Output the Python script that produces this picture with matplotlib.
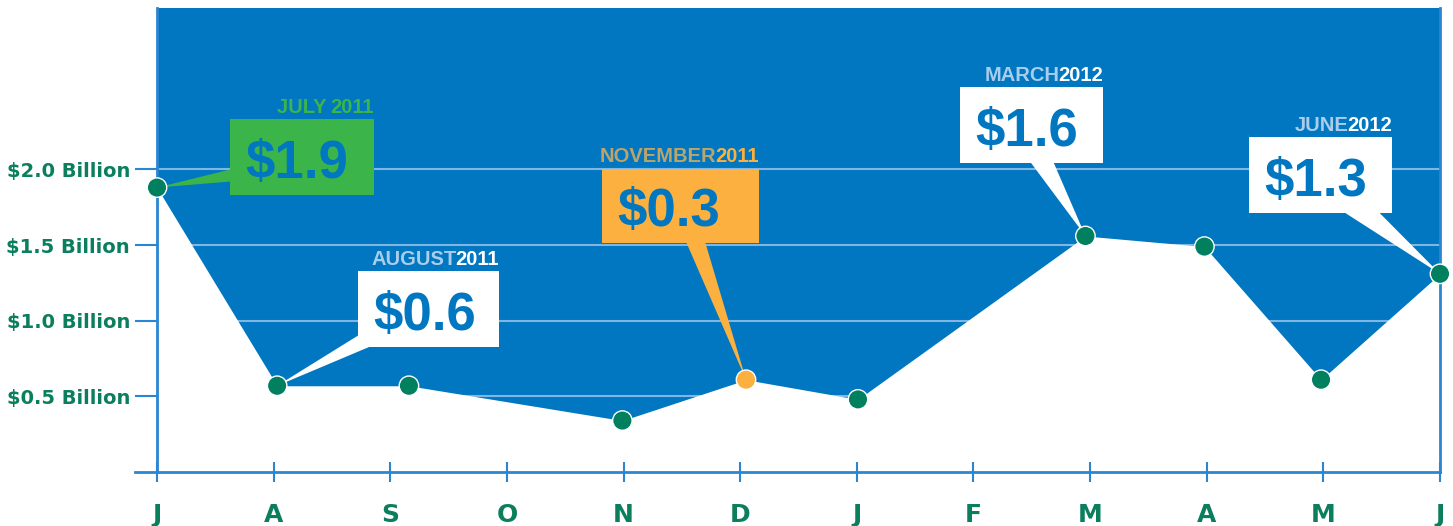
import matplotlib.pyplot as plt
from matplotlib.patches import Rectangle, Polygon

# month axis, July 2011 .. June 2012
months = ['J', 'A', 'S', 'O', 'N', 'D', 'J', 'F', 'M', 'A', 'M', 'J']

# readings: position in months after July 2011, value in $ billion
pos = [0, 1.03, 2.16, 3.99, 5.05, 6.01, 7.96, 8.98, 9.98, 11]
vals = [1.88, 0.57, 0.57, 0.34, 0.61, 0.48, 1.56, 1.49, 0.61, 1.31]
highlight = 4  # the orange one

yticks = [0.5, 1.0, 1.5, 2.0]
ylabels = ['$0.5 Billion', '$1.0 Billion', '$1.5 Billion', '$2.0 Billion']

# callouts
call_idx = [0, 1, 4, 6, 9]
call_month = ['JULY ', 'AUGUST', 'NOVEMBER', 'MARCH', 'JUNE']
call_year = ['2011', '2011', '2011', '2012', '2012']
call_value = ['$1.9', '$0.6', '$0.3', '$1.6', '$1.3']

BLUE = '#0077c0'
GRID = '#7fb6e4'
AXIS = '#2a86d2'
GREEN_TXT = '#0b7f5d'
DOT = '#00805e'
GREEN = '#3bb54a'
ORANGE = '#fbb040'
TAN = '#bca46b'
LIGHT = '#a9cdeb'

# box (x0, y0, w, h) and tail base points, data units
boxes = [(0.626, 1.831, 1.235, 0.50), (1.724, 0.826, 1.21, 0.50),
         (3.816, 1.514, 1.347, 0.49), (6.887, 2.042, 1.226, 0.50),
         (9.365, 1.712, 1.227, 0.50)]
tails = [[(0.63, 2.0), (0.63, 1.92)], [(1.73, 0.905), (1.83, 0.83)],
         [(4.537, 1.52), (4.70, 1.52)], [(7.487, 2.05), (7.685, 2.05)],
         [(10.172, 1.72), (10.472, 1.72)]]
box_col = [GREEN, 'white', ORANGE, 'white', 'white']
month_col = [GREEN, LIGHT, TAN, LIGHT, LIGHT]
year_col = [GREEN, 'white', ORANGE, 'white', 'white']

CALL_FONT = ['Liberation Sans', 'DejaVu Sans']

fig = plt.figure(figsize=(14.53, 5.26), dpi=100)
ax = fig.add_axes([157 / 1453, 54 / 526, 1283 / 1453, 464 / 526])
ax.set_facecolor(BLUE)
ax.set_xlim(0, 11)
ax.set_ylim(0, 3.067)

for v in yticks:
    ax.axhline(v, color=GRID, lw=1.5, zorder=0.8)
ax.fill_between(pos, 0, vals, color='white', lw=0, zorder=1)

# callouts
for k, i in enumerate(call_idx):
    x0, y0, w, h = boxes[k]
    ax.add_patch(Polygon(tails[k] + [(pos[i], vals[i])], closed=True,
                         color=box_col[k], lw=0, zorder=3))
    ax.add_patch(Rectangle((x0, y0), w, h, color=box_col[k], lw=0, zorder=3))
    ax.text(x0 + 0.13, y0 + 0.112, call_value[k], color=BLUE, fontsize=38,
            fontweight='bold', family=CALL_FONT, ha='left', va='baseline',
            zorder=4)

colors = [ORANGE if j == highlight else DOT for j in range(len(vals))]
ax.scatter(pos, vals, s=14 ** 2, c=colors, edgecolors='white', linewidths=1,
           zorder=5, clip_on=False)

ax.set_xticks(range(len(months)))
ax.set_xticklabels(months)
ax.set_yticks(yticks)
ax.set_yticklabels(ylabels)
ax.tick_params(axis='x', direction='inout', length=14.4, width=1.5, color=AXIS,
               pad=15, labelsize=18, labelcolor=GREEN_TXT)
ax.tick_params(axis='y', direction='out', length=15.8, width=1.5, color=AXIS,
               pad=3.6, labelsize=14, labelcolor=GREEN_TXT)
for lab in ax.get_xticklabels() + ax.get_yticklabels():
    lab.set_fontweight('bold')

for s in ['left', 'bottom', 'right']:
    ax.spines[s].set_color(AXIS)
    ax.spines[s].set_linewidth(2)
ax.spines['top'].set_visible(False)
ax.plot([-22 / 1283, 0], [0, 0], transform=ax.transAxes, color=AXIS, lw=2,
        clip_on=False)

# two-colour labels above the boxes
fig.canvas.draw()
r = fig.canvas.get_renderer()
for k in range(len(call_idx)):
    x0, y0, w, h = boxes[k]
    yb = y0 + h + 0.045
    t = ax.text(x0 + w, yb, call_year[k], color=year_col[k], fontsize=14.5,
                fontweight='bold', family=CALL_FONT, ha='right', va='baseline',
                zorder=4)
    bb = t.get_window_extent(r)
    xl = ax.transData.inverted().transform((bb.x0 + 1, bb.y0))[0]
    ax.text(xl, yb, call_month[k], color=month_col[k], fontsize=14.5,
            fontweight='bold', family=CALL_FONT, ha='right', va='baseline',
            zorder=4)

fig.savefig('out.png', dpi=100)
